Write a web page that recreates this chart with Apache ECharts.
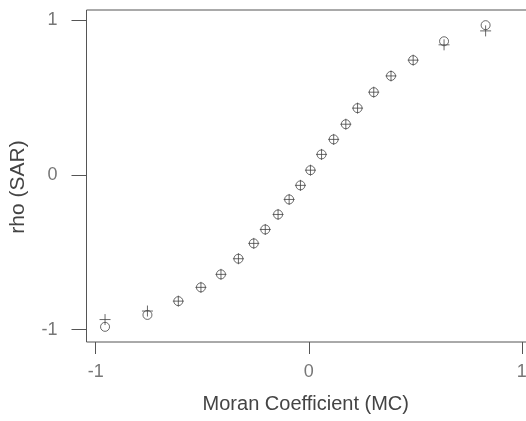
<!DOCTYPE html>
<html>
<head>
<meta charset="utf-8">
<script src="https://cdn.jsdelivr.net/npm/echarts@6/dist/echarts.min.js"></script>
<style>
  html, body { margin: 0; padding: 0; background: #fff; }
  #chart { width: 526px; height: 421px; }
</style>
</head>
<body>
<div id="chart"></div>
<script>
// Moran coefficient (x) vs rho of SAR: circles and plus signs
const mcValues = [-0.956, -0.757, -0.612, -0.506, -0.412, -0.330, -0.258, -0.204, -0.144, -0.092,
    -0.039, 0.008, 0.060, 0.117, 0.174, 0.229, 0.305, 0.386, 0.490, 0.635, 0.830];
const rhoCircle = [-0.982, -0.905, -0.816, -0.727, -0.643, -0.542, -0.443, -0.353, -0.256, -0.159,
    -0.068, 0.030, 0.132, 0.229, 0.327, 0.431, 0.534, 0.639, 0.741, 0.863, 0.967];
const rhoPlus = [-0.935, -0.880, -0.816, -0.727, -0.643, -0.542, -0.443, -0.353, -0.256, -0.159,
    -0.068, 0.030, 0.132, 0.229, 0.327, 0.431, 0.534, 0.639, 0.741, 0.840, 0.930];
const xTicks = [-1, 0, 1];
const yTicks = [-1, 0, 1];

function pairs(xs, ys) {
    return xs.map(function (x, i) {
        return [x, ys[i]];
    });
}

const myChart = echarts.init(document.getElementById('chart'));
const option = {
    animation: false,
    grid: {
        left: 86.5,
        top: 10,
        width: 444.5,
        bottom: 79,
        outerBoundsMode: 'none',
        containLabel: false,
        show: true,
        borderColor: '#555',
        borderWidth: 1
    },
    xAxis: {
        type: 'value',
        min: -1.043,
        max: 1.043,
        name: 'Moran Coefficient (MC)',
        nameLocation: 'middle',
        nameGap: 52,
        nameTextStyle: {
            fontFamily: 'Liberation Sans',
            fontSize: 20,
            color: '#444',
            padding: [0, 6, 0, 0]
        },
        axisLine: {show: false, onZero: false},
        axisTick: {
            show: true,
            length: 12,
            customValues: xTicks,
            lineStyle: {color: '#555'}
        },
        axisLabel: {
            customValues: xTicks,
            margin: 21,
            fontFamily: 'Liberation Sans',
            fontSize: 18,
            color: '#777'
        },
        splitLine: {show: false}
    },
    yAxis: {
        type: 'value',
        min: -1.08,
        max: 1.065,
        name: 'rho (SAR)',
        nameLocation: 'middle',
        nameGap: 58,
        nameRotate: 90,
        nameTextStyle: {
            fontFamily: 'Liberation Sans',
            fontSize: 21,
            color: '#444',
            padding: [0, 22, 0, 0]
        },
        axisLine: {show: false, onZero: false},
        axisTick: {
            show: true,
            length: 15,
            customValues: yTicks,
            lineStyle: {color: '#555'}
        },
        axisLabel: {
            customValues: yTicks,
            margin: 29,
            fontFamily: 'Liberation Sans',
            fontSize: 18,
            color: '#777'
        },
        splitLine: {show: false}
    },
    series: [
        {
            type: 'scatter',
            symbol: 'circle',
            symbolSize: 9,
            itemStyle: {
                color: 'rgba(0,0,0,0)',
                borderColor: '#444',
                borderWidth: 1
            },
            data: pairs(mcValues, rhoCircle)
        },
        {
            type: 'scatter',
            symbol: 'path://M0,-1L0,1M-1,0L1,0',
            symbolSize: 11,
            itemStyle: {
                color: 'rgba(0,0,0,0)',
                borderColor: '#444',
                borderWidth: 1
            },
            data: pairs(mcValues, rhoPlus)
        }
    ]
};
myChart.setOption(option);
</script>
</body>
</html>
